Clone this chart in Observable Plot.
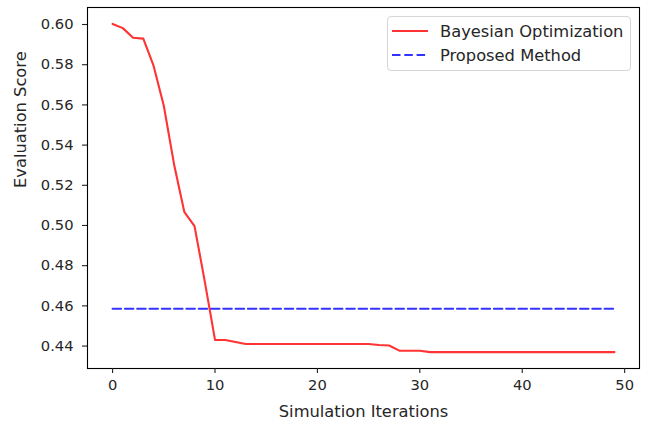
<!DOCTYPE html>
<html>
<head>
<meta charset="utf-8">
<script src="https://cdn.jsdelivr.net/npm/d3@7"></script>
<script src="https://cdn.jsdelivr.net/npm/@observablehq/plot@0.6"></script>
<style>
  html, body { margin: 0; padding: 0; background: #fff; }
  #wrap { position: relative; width: 646px; height: 421px; font-family: "DejaVu Sans", sans-serif; }
  #legend { position: absolute; left: 387px; top: 16px; width: 244px; height: 55px;
    border: 1px solid #d6d6d6; border-radius: 4px; background: rgba(255,255,255,0.8); box-sizing: border-box; }
  .item { position: absolute; left: 0; height: 22px; display: flex; align-items: center; font-size: 16.3px; color: #262626; white-space: nowrap; }
  .item svg { margin-left: 4px; margin-right: 12px; }
</style>
</head>
<body>
<div id="wrap"></div>
<script>
const iterations = [0,1,2,3,4,5,6,7,8,9,10,11,12,13,14,15,16,17,18,19,20,21,22,23,24,25,26,27,28,29,30,31,32,33,34,35,36,37,38,39,40,41,42,43,44,45,46,47,48,49];
const bayesian = [0.6003,0.5982,0.5934,0.5930,0.5795,0.5596,0.5305,0.5068,0.4997,0.4722,0.4431,0.4430,0.4420,0.4410,0.4410,0.4410,0.4410,0.4410,0.4410,0.4410,0.4410,0.4410,0.4410,0.4410,0.4410,0.4410,0.4405,0.4403,0.4377,0.4377,0.4377,0.4370,0.4370,0.4370,0.4370,0.4370,0.4370,0.4370,0.4370,0.4370,0.4370,0.4370,0.4370,0.4370,0.4370,0.4370,0.4370,0.4370,0.4370,0.4370];
const proposedValue = 0.4586;
const xTicks = [0,10,20,30,40,50];
const yTicks = [0.44,0.46,0.48,0.50,0.52,0.54,0.56,0.58,0.60];
const seriesNames = ["Bayesian Optimization","Proposed Method"];
const xLabel = "Simulation Iterations";
const yLabel = "Evaluation Score";

const bayesData = iterations.map((x, i) => ({x, y: bayesian[i]}));
const proposedData = [{x: iterations[0], y: proposedValue}, {x: iterations[iterations.length-1], y: proposedValue}];

const xMin = d3.min(iterations), xMax = d3.max(iterations);
const yMin = d3.min([...bayesian, proposedValue]), yMax = d3.max([...bayesian, proposedValue]);
const xPad = (xMax - xMin) * 0.05, yPad = (yMax - yMin) * 0.05;

const red = "rgba(255,0,0,0.8)";
const blue = "rgba(0,0,255,0.8)";

const chart = Plot.plot({
  width: 646,
  height: 421,
  marginLeft: 87,
  marginRight: 7,
  marginTop: 7,
  marginBottom: 53,
  style: {fontFamily: "DejaVu Sans, sans-serif", fontSize: "14.7px", color: "#262626", background: "white"},
  x: {domain: [xMin - xPad, xMax + xPad]},
  y: {domain: [yMin - yPad, yMax + yPad]},
  marks: [
    Plot.line(proposedData, {x: "x", y: "y", stroke: blue, strokeWidth: 2.1, strokeDasharray: "8.5,3.8"}),
    Plot.line(bayesData, {x: "x", y: "y", stroke: red, strokeWidth: 2.1}),
    Plot.frame({stroke: "black", strokeWidth: 1.1, strokeOpacity: 1}),
    Plot.axisX({ticks: xTicks, tickSize: 5, tickPadding: 6, tickFormat: d3.format("d"), label: null, stroke: "#222", strokeWidth: 1.1, strokeOpacity: 1, fill: "#262626"}),
    Plot.axisY({ticks: yTicks, tickSize: 5, tickPadding: 9, tickFormat: d3.format(".2f"), label: null, stroke: "#222", strokeWidth: 1.1, strokeOpacity: 1, fill: "#262626"}),
    Plot.text([xLabel], {frameAnchor: "bottom", dy: 43, text: d => d, fill: "#262626", fontSize: 16.3, lineAnchor: "middle"}),
    Plot.text([yLabel], {frameAnchor: "left", dx: -67, rotate: -90, text: d => d, fill: "#262626", fontSize: 16.3, lineAnchor: "middle"})
  ]
});

const wrap = document.getElementById("wrap");
wrap.appendChild(chart);

const legend = document.createElement("div");
legend.id = "legend";
const styles = [{stroke: red, dash: null, top: 3}, {stroke: blue, dash: "8.5,3.8", top: 27}];
seriesNames.forEach((name, i) => {
  const it = document.createElement("div");
  it.className = "item";
  it.style.top = styles[i].top + "px";
  const s = d3.create("svg").attr("width", 36).attr("height", 6);
  s.append("line").attr("x1", 0).attr("x2", 36).attr("y1", 3).attr("y2", 3)
    .attr("stroke", styles[i].stroke).attr("stroke-width", 2.1)
    .attr("stroke-dasharray", styles[i].dash);
  it.appendChild(s.node());
  const t = document.createElement("span");
  t.textContent = name;
  it.appendChild(t);
  legend.appendChild(it);
});
wrap.appendChild(legend);
</script>
</body>
</html>
